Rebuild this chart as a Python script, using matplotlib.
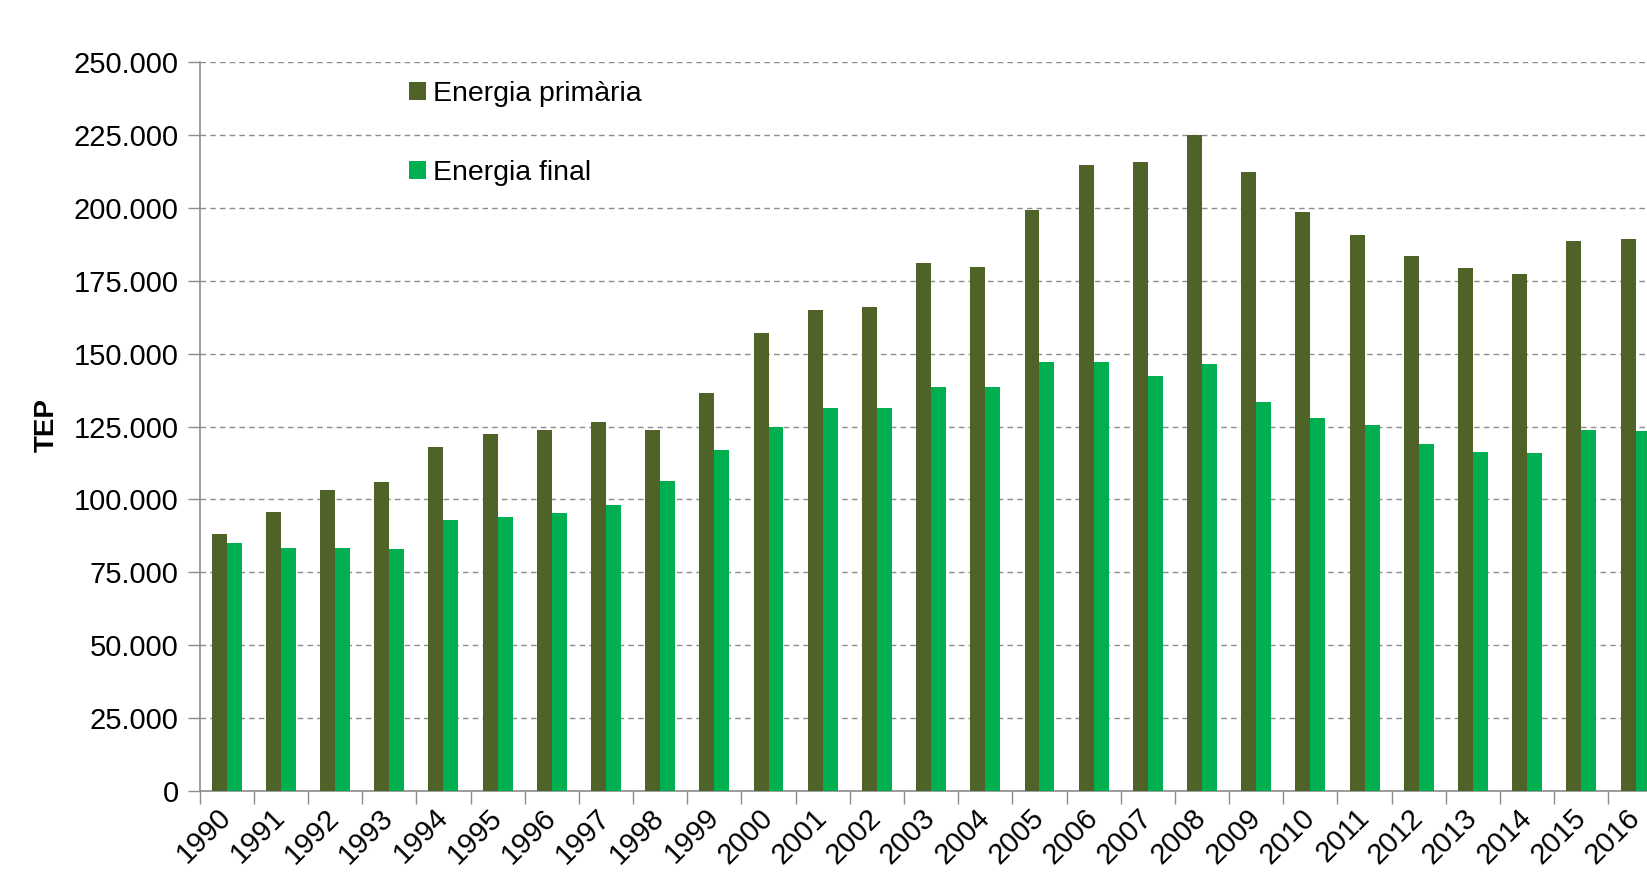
import numpy as np
import matplotlib
matplotlib.use("Agg")
import matplotlib.pyplot as plt
from matplotlib.ticker import FuncFormatter, MultipleLocator

plt.rcParams['font.family'] = ['Liberation Sans', 'DejaVu Sans']
plt.rcParams['font.size'] = 21

# data (TEP)
years = [str(y) for y in range(1990, 2017)]
primaria = [88300, 95800, 103300, 105800, 118100, 122400, 123900, 126700, 123900,
            136600, 157100, 165000, 166100, 181200, 179800, 199200, 214700, 215800,
            225100, 212400, 198400, 190600, 183300, 179400, 177400, 188700, 189300]
final = [84900, 83500, 83500, 83100, 92900, 94000, 95400, 98200, 106300,
         117000, 125000, 131500, 131500, 138500, 138500, 147000, 147000, 142400,
         146600, 133400, 128000, 125600, 119100, 116200, 115800, 123900, 123400]
labels = ["Energia primària", "Energia final"]
colors = ["#4F6228", "#00B050"]

W, H = 1647, 873
fig = plt.figure(figsize=(W / 100, H / 100), dpi=100)
# plot area runs past the right edge, as in the reference (2016 is cut off)
ax = fig.add_axes([199.6 / W, (H - 791) / H, 1463 / W, (791 - 62) / H])

x = np.arange(len(years))
bw = 0.276
ax.bar(x - bw / 2, primaria, bw, color=colors[0], label=labels[0], zorder=3)
ax.bar(x + bw / 2, final, bw, color=colors[1], label=labels[1], zorder=3)

ax.set_xlim(-0.5, len(years) - 0.5)
ax.set_ylim(0, 250000)
ax.yaxis.set_major_locator(MultipleLocator(25000))
ax.yaxis.set_major_formatter(FuncFormatter(lambda v, p: f"{int(v):,}".replace(",", ".")))
ax.grid(axis='y', color='#8c8c8c', linestyle=(0, (4, 3)), linewidth=1, zorder=0)

ax.set_xticks(x)
ax.set_xticklabels(years, rotation=45, ha='right', va='center', rotation_mode='anchor')
ax.set_xticks(np.arange(-0.5, len(years), 1), minor=True)
ax.tick_params(axis='x', which='major', length=0, pad=16)
ax.tick_params(axis='x', which='minor', length=9, color='#8c8c8c', width=1)
ax.tick_params(axis='y', length=9, color='#8c8c8c', width=1, pad=6)

for s in ['top', 'right']:
    ax.spines[s].set_visible(False)
for s in ['left', 'bottom']:
    ax.spines[s].set_color('#8c8c8c')
    ax.spines[s].set_linewidth(1.2)

fig.text(47 / W, 1 - 425 / H, "TEP", rotation=90, fontweight='bold',
         ha='center', va='center', fontsize=20)

ax.legend(loc='upper left', bbox_to_anchor=(395 / W, 1 - 67 / H),
          bbox_transform=fig.transFigure, frameon=False,
          handlelength=0.6, handleheight=0.6, handletextpad=0.25,
          labelspacing=1.85, borderpad=0, fontsize=20.5)

fig.savefig("out.png", dpi=100)
